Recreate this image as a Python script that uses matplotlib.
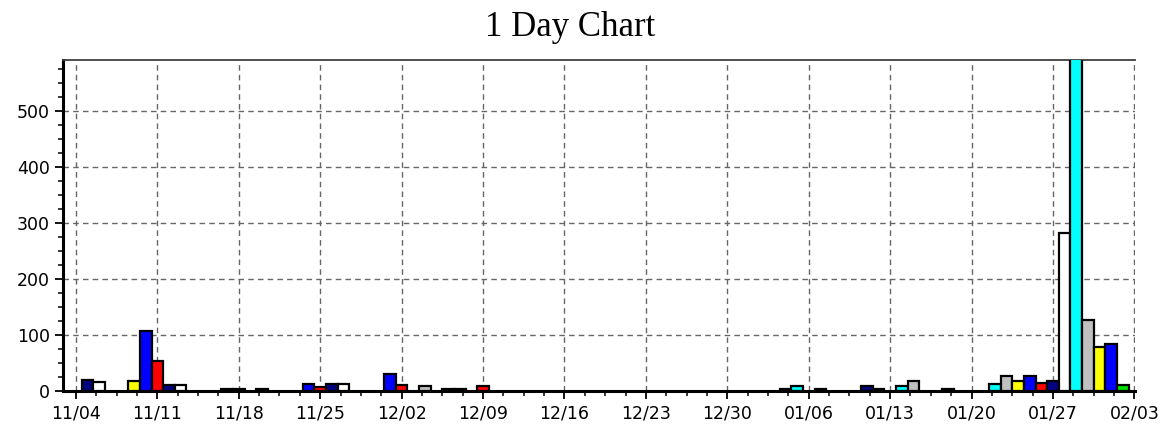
import matplotlib
matplotlib.use("Agg")
import matplotlib.pyplot as plt
import matplotlib.dates as mdates
import matplotlib.ticker as mticker
import numpy as np
import pandas as pd

# daily values, one bar per day
dates = ["2012-11-05", "2012-11-06", "2012-11-09", "2012-11-10", "2012-11-11",
         "2012-11-12", "2012-11-13", "2012-11-17", "2012-11-18", "2012-11-20",
         "2012-11-24", "2012-11-25", "2012-11-26", "2012-11-27", "2012-12-01",
         "2012-12-02", "2012-12-04", "2012-12-06", "2012-12-07", "2012-12-09",
         "2013-01-04", "2013-01-05", "2013-01-07", "2013-01-11", "2013-01-12",
         "2013-01-14", "2013-01-15", "2013-01-18", "2013-01-22", "2013-01-23",
         "2013-01-24", "2013-01-25", "2013-01-26", "2013-01-27", "2013-01-28",
         "2013-01-29", "2013-01-30", "2013-01-31", "2013-02-01", "2013-02-02"]
values = [19, 16, 18, 108, 54,
          11, 11, 3, 3, 3,
          12, 6.5, 12, 12, 30,
          11, 9, 3, 3, 9,
          3, 9, 3, 9, 4,
          9, 18, 3, 12, 27,
          17, 26, 15, 18, 282,
          650, 127, 79, 83.5, 11]
colors = ["navy", "white", "yellow", "blue", "red",
          "navy", "white", "silver", "yellow", "red",
          "blue", "red", "navy", "white", "blue",
          "red", "silver", "navy", "white", "red",
          "silver", "cyan", "navy", "navy", "white",
          "cyan", "silver", "red", "cyan", "silver",
          "yellow", "blue", "red", "navy", "white",
          "cyan", "silver", "yellow", "blue", "#00e000"]

start = pd.Timestamp("2012-11-04")
end = pd.Timestamp("2013-02-03")

x = mdates.date2num(pd.to_datetime(dates))
x0 = mdates.date2num(start)
x1 = mdates.date2num(end)

fig = plt.figure(figsize=(11.63, 4.29), dpi=100)
ax = fig.add_axes([0.0544, 0.0886, 0.9216, 0.7704])

ax.bar(x, values, width=1.0, color=colors, edgecolor="black", linewidth=1.6, zorder=3)

ax.set_xlim(x0 - 1.09, x1 + 0.06)
ax.set_ylim(0, 591)

majors = np.arange(x0, x1 + 0.5, 7)
ax.xaxis.set_major_locator(mticker.FixedLocator(majors))
ax.xaxis.set_minor_locator(mticker.FixedLocator(np.arange(x0, x1 + 0.5, 1.75)))
ax.xaxis.set_major_formatter(mdates.DateFormatter("%m/%d"))
ax.yaxis.set_major_locator(mticker.MultipleLocator(100))
ax.yaxis.set_minor_locator(mticker.MultipleLocator(25))

ax.grid(True, which="major", linestyle=(0, (4, 3)), color="#666666", linewidth=1.0)
ax.set_axisbelow(True)

ax.tick_params(which="major", length=6, width=1.3, labelsize=12.5, colors="black")
ax.tick_params(which="minor", length=3.5, width=1.1)
for lab in ax.get_xticklabels() + ax.get_yticklabels():
    lab.set_fontfamily("DejaVu Sans")

ax.spines["left"].set_linewidth(2.2)
ax.spines["bottom"].set_linewidth(2.2)
ax.spines["right"].set_visible(False)
ax.spines["top"].set_linewidth(1.3)
ax.spines["top"].set_color("#404040")

fig.text(0.49, 0.935, "1 Day Chart", ha="center", va="center",
         fontsize=25, family="Liberation Serif")

plt.savefig("out.png", dpi=100)
